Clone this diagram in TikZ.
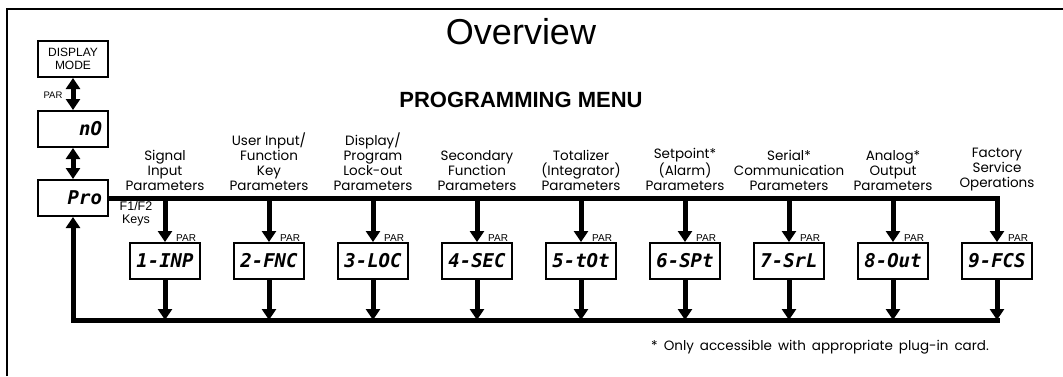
\documentclass[tikz,border=0pt]{standalone}
\usepackage{fontspec}
\setmainfont{Liberation Sans}
\newfontfamily\cadfont{Poppins}
\newfontfamily\segfont{DejaVu Sans Mono}
\usetikzlibrary{arrows.meta, positioning}
\tikzstyle{readout}=[rectangle, draw=black, line width=2pt, minimum width=70pt, minimum height=36pt, inner sep=0pt]
\tikzstyle{segright}=[readout, text width=58pt, align=right, font=\segfont\bfseries\itshape\fontsize{19}{19}\selectfont]
\tikzstyle{menubox}=[readout, font=\segfont\bfseries\itshape\fontsize{19}{19}\selectfont]
\tikzstyle{bus}=[line width=5pt]
\tikzstyle{heading}=[align=center, inner sep=0pt, font=\cadfont\fontsize{13.5}{15}\selectfont]
\tikzstyle{parlabel}=[inner sep=0pt, font=\fontsize{10}{10}\selectfont]

\begin{document}
\begin{tikzpicture}[x=1pt, y=-1pt, node distance=104pt, >={Triangle[width=14pt,length=11pt]}]
      \useasboundingbox (0,0) rectangle (1063,376);
      \draw[line width=1.5pt] (7,376) -- (7,9) -- (1063,9);

      \node[font=\fontsize{36}{36}\selectfont] (overview) at (521,32) {Overview};
      \node[font=\bfseries\fontsize{22}{22}\selectfont] (menu) at (521,100) {PROGRAMMING MENU};

      % display / program entry
      \node[readout, align=center, font=\fontsize{12}{13}\selectfont] (mode) at (73,59) {DISPLAY\\MODE};
      \node[segright] (no)  at (73,129) {nO};
      \node[segright] (pro) at (73,198) {Pro};
      \draw[bus, <->] (mode) -- (no);
      \draw[bus, <->] (no) -- (pro);
      \node[parlabel, font=\fontsize{9.5}{9.5}\selectfont] (modepar) at (53,95) {PAR};
      \node[align=center, inner sep=0pt, font=\fontsize{12.5}{13}\selectfont] (keys) at (136,214) {F1/F2\\Keys};

      % menu modules
      \node[menubox] (b1) at (165,261) {1-INP};
      \node[menubox, right of=b1] (b2) {2-FNC};
      \node[menubox, right of=b2] (b3) {3-LOC};
      \node[menubox, right of=b3] (b4) {4-SEC};
      \node[menubox, right of=b4] (b5) {5-tOt};
      \node[menubox, right of=b5] (b6) {6-SPt};
      \node[menubox, right of=b6] (b7) {7-SrL};
      \node[menubox, right of=b7] (b8) {8-Out};
      \node[menubox, right of=b8] (b9) {9-FCS};

      \node[heading, above=51pt of b1] (t1) {Signal\\Input\\Parameters};
      \node[heading, above=51pt of b2] (t2) {User Input/\\Function\\Key\\Parameters};
      \node[heading, above=51pt of b3] (t3) {Display/\\Program\\Lock-out\\Parameters};
      \node[heading, above=51pt of b4] (t4) {Secondary\\Function\\Parameters};
      \node[heading, above=51pt of b5] (t5) {Totalizer\\(Integrator)\\Parameters};
      \node[heading, above=51pt of b6] (t6) {Setpoint*\\(Alarm)\\Parameters};
      \node[heading, above=51pt of b7] (t7) {Serial*\\Communication\\Parameters};
      \node[heading, above=51pt of b8] (t8) {Analog*\\Output\\Parameters};
      \node[heading, above=51pt of b9] (t9) {Factory\\Service\\Operations};

      \node[parlabel, above right=0pt and 11pt of b1.north] (p1) {PAR};
      \node[parlabel, above right=0pt and 11pt of b2.north] (p2) {PAR};
      \node[parlabel, above right=0pt and 11pt of b3.north] (p3) {PAR};
      \node[parlabel, above right=0pt and 11pt of b4.north] (p4) {PAR};
      \node[parlabel, above right=0pt and 11pt of b5.north] (p5) {PAR};
      \node[parlabel, above right=0pt and 11pt of b6.north] (p6) {PAR};
      \node[parlabel, above right=0pt and 11pt of b7.north] (p7) {PAR};
      \node[parlabel, above right=0pt and 11pt of b8.north] (p8) {PAR};
      \node[parlabel, above right=0pt and 11pt of b9.north] (p9) {PAR};

      % F1/F2 bus and return bus
      \draw[bus, ->] (pro) -| (b9);
      \draw[bus, ->] (b1 |- pro) -- (b1);
      \draw[bus, ->] (b2 |- pro) -- (b2);
      \draw[bus, ->] (b3 |- pro) -- (b3);
      \draw[bus, ->] (b4 |- pro) -- (b4);
      \draw[bus, ->] (b5 |- pro) -- (b5);
      \draw[bus, ->] (b6 |- pro) -- (b6);
      \draw[bus, ->] (b7 |- pro) -- (b7);
      \draw[bus, ->] (b8 |- pro) -- (b8);

      \coordinate (ret) at (73,320);
      \draw[bus, ->, shorten <=-2.5pt] (ret -| b9) -- (ret) -- (pro);
      \draw[bus, ->] (b1) -- (b1 |- ret);
      \draw[bus, ->] (b2) -- (b2 |- ret);
      \draw[bus, ->] (b3) -- (b3 |- ret);
      \draw[bus, ->] (b4) -- (b4 |- ret);
      \draw[bus, ->] (b5) -- (b5 |- ret);
      \draw[bus, ->] (b6) -- (b6 |- ret);
      \draw[bus, ->] (b7) -- (b7 |- ret);
      \draw[bus, ->] (b8) -- (b8 |- ret);
      \draw[bus, ->] (b9) -- (b9 |- ret);

      \node[heading, anchor=west, font=\cadfont\fontsize{13.5}{13.5}\selectfont] (note) at (651,347) {\spaceskip=6pt\relax * Only accessible with appropriate plug-in card.};
\end{tikzpicture}
\end{document}
